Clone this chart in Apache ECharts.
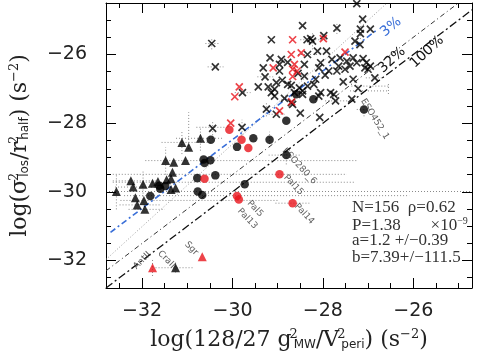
<!DOCTYPE html>
<html>
<head>
<meta charset="utf-8">
<script src="https://cdn.jsdelivr.net/npm/echarts@6/dist/echarts.min.js"></script>
<style>
html,body{margin:0;padding:0;background:#fff;}
#main{width:485px;height:356px;}
</style>
</head>
<body>
<div id="main"></div>
<script>
// points [x, y] = [log(128/27 g^2/V^2), log(sigma^2/r^2)]
var blackCross = [[-30.46,-25.68],[-30.38,-26.36],[-29.14,-25.57],[-29.17,-26.10],[-28.92,-26.14],[-29.32,-26.39],
    [-28.96,-26.29],[-28.78,-26.23],[-28.96,-26.48],[-29.28,-26.65],[-29.43,-26.94],[-29.21,-26.94],[-29.03,-26.82],
    [-29.07,-27.01],[-29.14,-27.11],[-29.07,-27.21],[-28.70,-26.90],[-28.85,-27.28],[-29.25,-27.59],[-28.70,-27.40],
    [-29.03,-27.74],[-29.78,-27.11],[-30.44,-28.15],[-29.79,-28.12],[-28.63,-27.11],[-28.52,-26.97],[-28.34,-26.92],
    [-28.45,-27.16],[-28.20,-26.87],[-28.05,-27.11],[-27.83,-27.11],[-28.50,-27.71],[-28.07,-27.83],[-27.25,-24.52],
    [-27.12,-24.97],[-27.17,-25.26],[-26.95,-25.26],[-27.17,-25.39],[-27.69,-25.23],[-28.45,-25.16],[-28.27,-25.54],
    [-28.23,-25.61],[-27.98,-25.45],[-28.12,-25.90],[-27.92,-25.90],[-27.29,-25.61],[-27.18,-25.71],[-28.34,-26.00],
    [-27.80,-26.14],[-27.62,-26.10],[-27.47,-26.19],[-27.33,-26.10],[-27.25,-26.24],[-27.11,-26.12],[-27.04,-26.24],
    [-26.95,-26.34],[-27.65,-26.34],[-27.51,-26.43],[-27.40,-26.34],[-27.07,-26.39],[-27.00,-26.43],[-28.41,-26.29],
    [-28.05,-26.24],[-28.09,-26.39],[-28.41,-26.63],[-28.16,-26.72],[-27.87,-26.48],[-27.69,-26.48],[-27.33,-26.72],
    [-26.85,-26.68],[-28.78,-26.87],[-28.45,-27.06],[-27.76,-27.16],[-27.22,-26.99],[-27.36,-27.30],[-28.67,-27.45],
    [-28.09,-27.21],[-28.35,-25.57],[-27.72,-27.35],[-28.55,-26.55],[-27.95,-26.60],[-28.90,-26.75],[-27.55,-26.80]];
var redCross = [[-28.67,-25.57],[-29.10,-26.39],[-28.70,-26.00],[-28.67,-26.43],[-28.67,-26.64],[-28.96,-27.64],
    [-29.85,-26.94],[-29.95,-27.23],[-30.04,-28.00],[-28.69,-27.38],[-27.99,-25.54],[-28.48,-25.95],[-27.51,-25.93],
    [-28.63,-26.29],[-28.57,-26.48]];
var blackDot = [[-28.81,-27.93],[-30.48,-28.48],[-29.54,-28.44],[-29.18,-28.48],[-29.90,-28.69],[-28.21,-27.30],
    [-30.64,-29.06],[-30.62,-29.16],[-30.49,-29.08],[-28.81,-28.93],[-30.78,-29.60],[-30.38,-29.52],[-29.73,-29.78],
    [-30.77,-29.99],[-30.67,-30.09],[-31.62,-29.82],[-31.60,-29.91],[-31.49,-29.83],[-31.82,-30.12],[-27.09,-27.60],
    [-28.59,-27.16]];
var redDot = [[-30.07,-28.19],[-29.80,-28.48],[-29.65,-28.72],[-30.62,-29.62],[-28.96,-29.49],[-29.90,-30.12],
    [-29.86,-30.22],[-28.67,-30.33]];
var blackTri = [[-30.71,-28.44],[-31.12,-28.56],[-30.97,-28.70],[-31.48,-29.09],[-31.30,-29.14],[-31.04,-29.09],
    [-31.33,-29.43],[-32.25,-29.68],[-31.98,-29.78],[-31.77,-29.75],[-31.65,-29.70],[-31.46,-29.65],[-31.36,-29.62],
    [-31.36,-29.93],[-31.26,-29.89],[-32.57,-29.99],[-32.20,-29.86],[-32.15,-30.17],[-31.96,-30.25],[-32.11,-30.38],
    [-31.94,-30.51],[-31.26,-32.21]];
var redTri = [[-30.67,-31.89],[-31.77,-32.21]];

// error bars: horizontal [y, xlow, xhigh], vertical [x, ylow, yhigh]
var errH = [[-29.09,-31.93,-27.24],[-29.49,-32.65,-27.47],[-29.72,-32.65,-27.29],[-29.99,-32.8,-24.7],
    [-30.11,-32.40,-26.09],[-28.56,-31.57,-30.48],[-30.25,-32.48,-29.00],[-28.44,-31.25,-30.20],
    [-30.33,-29.05,-28.30],[-26.92,-27.37,-26.52],[-27.06,-27.40,-26.55],[-27.60,-27.25,-26.95],
    [-28.93,-29.20,-28.50],[-28.12,-30.80,-30.10],[-29.68,-32.65,-31.70],[-29.86,-32.60,-31.50],
    [-30.38,-32.50,-31.60],[-30.51,-32.30,-31.50],[-32.21,-31.77,-30.85],[-25.57,-28.50,-27.90],
    [-26.00,-28.55,-28.10],[-27.35,-27.95,-27.45],[-27.11,-29.95,-29.60],[-26.36,-30.55,-30.20],
    [-25.68,-30.60,-30.30],[-27.74,-29.20,-28.85],[-26.65,-29.45,-29.10],[-26.68,-27.05,-26.65]];
var errV = [[-30.97,-28.75,-27.68],[-32.57,-30.51,-29.48],[-31.98,-30.40,-29.40],[-31.48,-29.50,-28.70],
    [-31.12,-28.90,-28.20],[-30.71,-28.80,-28.10],[-29.18,-28.70,-28.25],[-28.81,-29.20,-28.70],
    [-27.09,-27.80,-27.40],[-31.26,-32.35,-32.05],[-31.77,-32.45,-31.95],[-26.55,-27.15,-26.80],
    [-30.44,-28.35,-27.95],[-29.79,-28.35,-27.90],[-28.23,-25.85,-25.35],[-27.17,-25.55,-25.10],
    [-30.46,-25.85,-25.50],[-29.25,-27.80,-27.40],[-27.69,-25.40,-25.05]];

// reference lines (end points)
var line100 = [[-32.8,-32.8],[-24.7,-24.7]];
var line32 = [[-32.8,-32.3],[-25.0,-24.5]];
var line3 = [[-32.7,-31.18],[-26.8,-25.28]];
var lineFit = [[-32.8,-31.97],[-26.58,-24.5]];

// object names [x, y, text, angle]
var nameTags = [[-26.85,-27.88,'ESO452_1',-58],[-28.52,-29.25,'ESO280_6',-47],[-28.65,-29.80,'Pal15',-47],
    [-28.41,-30.64,'Pal14',-47],[-29.50,-30.49,'Pal5',-47],[-29.67,-30.78,'Pal13',-47],
    [-30.91,-31.65,'Sgr',-45],[-31.46,-31.97,'CraII',-45],[-32.0,-32.0,'AntII',45]];

var majorTicks = [-32,-30,-28,-26];
var minorTicksX = [-32.5,-31.5,-31,-30.5,-29.5,-29,-28.5,-27.5,-27,-26.5,-25.5,-25];
var minorTicksY = [-32.5,-31.5,-31,-30.5,-29.5,-29,-28.5,-27.5,-27,-26.5,-25.5,-25];

var xMin = -32.8, xMax = -24.7, yMin = -32.8, yMax = -24.5;
var RED = '#e8141b';
var chart = echarts.init(document.getElementById('main'));

function fmtTick(v){
    return '\u2212' + Math.abs(v);
}

function makeAxis(isX, pos, ticks, len, main){
    var ax = {
        type: 'value', position: pos, min: isX ? xMin : yMin, max: isX ? xMax : yMax,
        splitLine: {show: false},
        axisLine: {show: main, onZero: false, lineStyle: {color: '#000', width: 1}},
        axisTick: {show: true, inside: true, length: len, customValues: ticks, lineStyle: {color: '#000', width: 1}},
        axisLabel: {show: false}
    };
    return ax;
}

var xAxes = [makeAxis(true,'bottom',majorTicks,10,true), makeAxis(true,'bottom',minorTicksX,5,false),
    makeAxis(true,'top',majorTicks,10,true), makeAxis(true,'top',minorTicksX,5,false)];
var yAxes = [makeAxis(false,'left',majorTicks,10,true), makeAxis(false,'left',minorTicksY,5,false),
    makeAxis(false,'right',majorTicks,10,true), makeAxis(false,'right',minorTicksY,5,false)];

xAxes[0].axisLabel = {show: true, customValues: majorTicks, formatter: fmtTick, margin: 14,
    fontFamily: 'DejaVu Sans', fontSize: 19, color: '#222'};
yAxes[0].axisLabel = {show: true, customValues: majorTicks, formatter: fmtTick, margin: 19,
    fontFamily: 'DejaVu Sans', fontSize: 19, color: '#222'};

var richT = {
    t: {fontFamily: 'DejaVu Serif', fontSize: 22, color: '#222'},
    p: {fontFamily: 'DejaVu Serif', fontSize: 13, color: '#222', width: 0.1, padding: [0,0,11,2]},
    b: {fontFamily: 'DejaVu Sans', fontSize: 12, color: '#222', padding: [10,0,0,0]},
    q: {fontFamily: 'DejaVu Serif', fontSize: 13, color: '#222', padding: [0,0,11,0]}
};
xAxes[0].name = '{t|log(128/27 g}{p|2}{b|MW}{t|/V}{p|2}{b|peri}{t|) (s}{q|\u22122}{t|)}';
xAxes[0].nameLocation = 'middle';
xAxes[0].nameGap = 40;
xAxes[0].nameTextStyle = {rich: richT};
yAxes[0].name = '{t|log(\u03c3}{p|2}{b|los}{t|/r}{p|2}{b|half}{t|) (s}{q|\u22122}{t|)}';
yAxes[0].nameLocation = 'middle';
yAxes[0].nameRotate = 90;
yAxes[0].nameGap = 74;
yAxes[0].nameTextStyle = {rich: richT};

function refLine(data, color, width, dash){
    return {type: 'line', data: data, showSymbol: false, silent: true, z: 1,
        lineStyle: {color: color, width: width, type: dash}};
}

function errRender(horizontal){
    return function(params, api){
        var a, b;
        if (horizontal) {
            a = api.coord([api.value(1), api.value(0)]);
            b = api.coord([api.value(2), api.value(0)]);
        } else {
            a = api.coord([api.value(0), api.value(1)]);
            b = api.coord([api.value(0), api.value(2)]);
        }
        return {type: 'line', shape: {x1: a[0], y1: a[1], x2: b[0], y2: b[1]},
            style: {stroke: '#8a8a8a', lineWidth: 1, lineDash: [1,2]}};
    };
}

var crossPath = 'path://M0,0L10,10M10,0L0,10';
var boxFont = {fontFamily: 'Liberation Serif', fontSize: 17, fill: '#333'};

chart.setOption({
    animation: false,
    grid: {left: 98, right: 13, top: 3, bottom: 66},
    xAxis: xAxes,
    yAxis: yAxes,
    graphic: [
        {type: 'text', left: 352, top: 199, style: Object.assign({text: 'N=156  \u03c1=0.62'}, boxFont)},
        {type: 'text', left: 352, top: 216, style: {text: '{a|P=1.38       \u00d710}{s|\u22129}',
            rich: {a: boxFont, s: {fontFamily: 'Liberation Serif', fontSize: 10, fill: '#333', padding: [0,0,9,0]}}}},
        {type: 'text', left: 352, top: 232, style: Object.assign({text: 'a=1.2 +/\u22120.39'}, boxFont)},
        {type: 'text', left: 352, top: 249, style: Object.assign({text: 'b=7.39+/\u2212111.5'}, boxFont)},
        {type: 'text', x: 391, y: 27, rotation: 0.7, style: {text: '3%', fontFamily: 'DejaVu Sans', fontSize: 14, fill: '#3a6fd8', align: 'center', verticalAlign: 'middle'}},
        {type: 'text', x: 392, y: 60, rotation: 0.75, style: {text: '32%', fontFamily: 'DejaVu Sans', fontSize: 14, fill: '#111', align: 'center', verticalAlign: 'middle'}},
        {type: 'text', x: 427, y: 52, rotation: 0.75, style: {text: '100%', fontFamily: 'DejaVu Sans', fontSize: 14, fill: '#111', align: 'center', verticalAlign: 'middle'}}
    ],
    series: [
        {type: 'custom', renderItem: errRender(true), data: errH, silent: true, z: 0, clip: true},
        {type: 'custom', renderItem: errRender(false), data: errV, silent: true, z: 0, clip: true},
        refLine(lineFit, '#9a9a9a', 1, [1,2]),
        refLine(line32, '#333', 1, [5,3,1,3]),
        refLine(line100, '#111', 1.3, [8,3,2,3]),
        refLine(line3, '#3a6fd8', 1.6, [6,3,2,3]),
        {type: 'scatter', data: blackCross, symbol: crossPath, symbolSize: 7, z: 3,
            itemStyle: {color: 'rgba(0,0,0,0)', borderColor: '#000', borderWidth: 1.7}},
        {type: 'scatter', data: redCross, symbol: crossPath, symbolSize: 7, z: 3,
            itemStyle: {color: 'rgba(0,0,0,0)', borderColor: RED, borderWidth: 1.7}},
        {type: 'scatter', data: blackDot, symbol: 'circle', symbolSize: 8.5, z: 3, itemStyle: {color: '#000'}},
        {type: 'scatter', data: redDot, symbol: 'circle', symbolSize: 8.5, z: 3, itemStyle: {color: RED}},
        {type: 'scatter', data: blackTri, symbol: 'triangle', symbolSize: 9, z: 3, itemStyle: {color: '#000'}},
        {type: 'scatter', data: redTri, symbol: 'triangle', symbolSize: 9, z: 3, itemStyle: {color: RED}},
        {type: 'scatter', symbolSize: 0, z: 4, silent: true,
            data: nameTags.map(function(d){
                return {value: [d[0], d[1]], label: {show: true, position: 'inside', formatter: d[2], rotate: d[3],
                    fontFamily: 'DejaVu Sans', fontSize: 9, color: '#333'}};
            })}
    ]
});
</script>
</body>
</html>
